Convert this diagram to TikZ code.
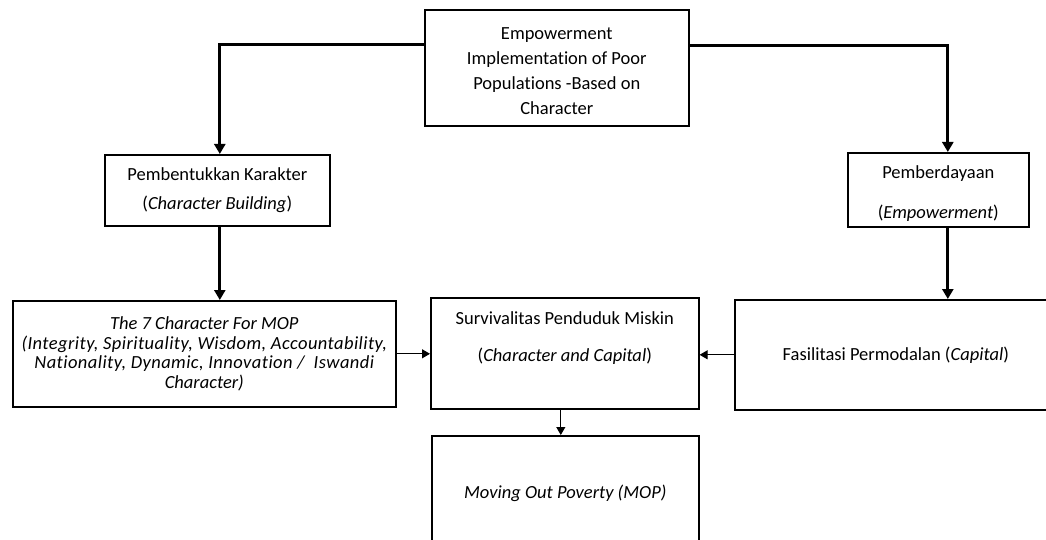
\documentclass[tikz,border=0pt]{standalone}
\usepackage{fontspec}
\setmainfont{Carlito}[Ligatures=NoCommon]
\usetikzlibrary{arrows.meta}

\begin{document}
\begin{tikzpicture}[x=1pt,y=-1pt,
  box/.style={draw=black, line width=1.6pt, anchor=north west, inner sep=0pt,
              align=center, font=\fontsize{18.5}{22}\selectfont},
  heavy/.style={line width=3pt, -{Triangle[length=10pt,width=11pt]}},
  light/.style={line width=1pt, -{Triangle[length=8pt,width=9pt]}}
]
\useasboundingbox (0,0) rectangle (1046,540);
\clip (0,0) rectangle (1046,540);

% boxes
\node[box, minimum width=264pt, minimum height=116pt,
      font=\fontsize{18.5}{25}\selectfont] (top) at (424,9)
  {\rule{0pt}{18pt}Empowerment\\Implementation of Poor\\Populations -Based on\\Character};

\node[box, minimum width=225pt, minimum height=71pt,
      font=\fontsize{18.5}{29}\selectfont] (pemb) at (104,154)
  {Pembentukkan Karakter\\(\textit{Character Building})};

\node[box, minimum width=181pt, minimum height=74pt,
      font=\fontsize{18.5}{40}\selectfont] (pember) at (847,152)
  {\rule{0pt}{20pt}Pemberdayaan\\(\textit{Empowerment})};

\node[box, minimum width=383pt, minimum height=106pt,
      font=\fontsize{18.5}{19.7}\selectfont\itshape] (ch7) at (12,300)
  {The 7 Character For MOP\\
   {\addfontfeatures{LetterSpace=2.4}(Integrity, Spirituality, Wisdom, Accountability,}\\
   {\addfontfeatures{LetterSpace=2.4}Nationality, Dynamic, Innovation /~ Iswandi}\\
   Character)};

\node[box, minimum width=268pt, minimum height=111pt] (surv) at (430,297)
  {\parbox[c][111pt][t]{268pt}{\fontsize{18.5}{37}\selectfont\centering
    \rule{0pt}{27pt}Survivalitas Penduduk Miskin\\(\textit{Character and Capital})}};

\node[box, minimum width=322pt, minimum height=110pt] (fas) at (734,299)
  {Fasilitasi Permodalan (\textit{Capital})};

\node[box, minimum width=267pt, minimum height=116pt] (mop) at (431,435)
  {\textit{Moving Out Poverty (MOP)}};

% connectors
\draw[heavy] ([yshift=23pt]top.west) -| ([xshift=2.5pt]pemb.north);
\draw[heavy] ([yshift=22pt]top.east) -| ([xshift=9.5pt]pember.north);
\draw[heavy] ([xshift=2.5pt]pemb.south) -- ([xshift=2.5pt]pemb.south |- ch7.north);
\draw[heavy] ([xshift=9.5pt]pember.south) -- ([xshift=9.5pt]pember.south |- fas.north);
\draw[light] (ch7.east) -- (ch7.east -| surv.west);
\draw[light] (fas.west) -- (fas.west -| surv.east);
\draw[light] ([xshift=-4pt]surv.south) -- ([xshift=-4pt]surv.south |- mop.north);
\end{tikzpicture}
\end{document}
